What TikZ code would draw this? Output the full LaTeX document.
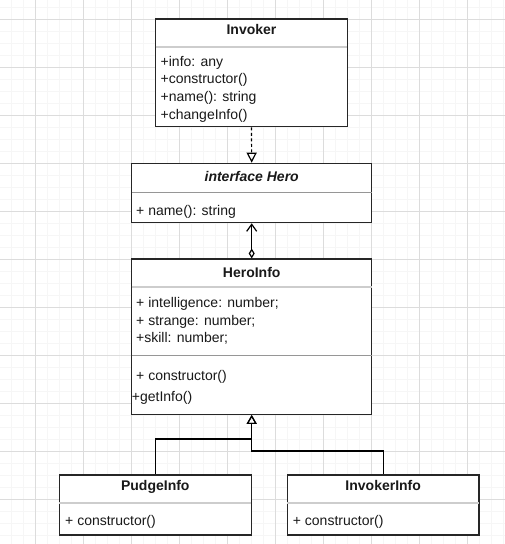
\documentclass[tikz,border=0pt]{standalone}
\usepackage{fontspec}
\setmainfont{Liberation Sans}
\usetikzlibrary{arrows.meta}

\definecolor{gridminor}{RGB}{246,246,246}
\definecolor{gridmajor}{RGB}{220,220,220}
\definecolor{boxline}{RGB}{38,38,38}
\definecolor{headrule}{RGB}{205,205,205}
\definecolor{bodyrule}{RGB}{150,150,150}
\definecolor{umltext}{RGB}{25,25,25}

\tikzset{
  classbox/.style={draw=boxline, line width=1.2pt, fill=white, inner sep=0pt},
  classname/.style={font=\fontsize{14}{17}\selectfont\bfseries, text=umltext,
    inner sep=0pt, text height=10pt, text depth=3pt},
  members/.style={font=\fontsize{14}{17.6}\selectfont, text=umltext,
    align=left, anchor=west, inner sep=0pt},
  titlerule/.style={draw=headrule, line width=2pt, shorten <=0.6pt, shorten >=0.6pt},
  memberrule/.style={draw=bodyrule, line width=0.8pt, shorten <=0.6pt, shorten >=0.6pt},
  realize/.style={draw=black, line width=1.2pt, dash pattern=on 3pt off 2.5pt,
    -{Triangle[open,length=10pt,width=10pt]}},
  aggregate/.style={draw=black, line width=1.2pt,
    {Diamond[open,length=10pt,width=6pt]}-{Straight Barb[length=7pt,width=10pt]}},
  generalize/.style={draw=black, line width=1.2pt,
    -{Triangle[open,length=9pt,width=10pt]}}
}

\begin{document}
\begin{tikzpicture}[x=1pt,y=-1pt]
  \useasboundingbox (0,0) rectangle (505,544);
  % background grid
  \foreach \i in {0,...,41}
    \draw[gridminor, line width=0.6pt] ({11.5+12*\i},0) -- ({11.5+12*\i},544);
  \foreach \i in {0,...,44}
    \draw[gridminor, line width=0.6pt] (0,{7.3+12*\i}) -- (505,{7.3+12*\i});
  \foreach \i in {0,...,9}
    \draw[gridmajor, line width=0.7pt] ({35.5+48*\i},0) -- ({35.5+48*\i},544);
  \foreach \i in {0,...,10}
    \draw[gridmajor, line width=0.7pt] (0,{19.3+48*\i}) -- (505,{19.3+48*\i});

  % Invoker
  \node[classbox, minimum width=191.6pt, minimum height=107.7pt] (invoker) at (251.5,72.85) {};
  \node[classname] (invokername) at (251.5,30.5) {Invoker};
  \draw[titlerule] ([yshift=-28.7pt]invoker.north west) -- ([yshift=-28.7pt]invoker.north east);
  \node[members] (invokerattrs) at (160.5,89) {+info: any\\+constructor()\\+name(): string\\+changeInfo()};

  % interface Hero
  \node[classbox, minimum width=240pt, minimum height=59.4pt] (hero) at (251.7,193) {};
  \node[classname, font=\fontsize{14}{17}\selectfont\bfseries\itshape] (heroname) at (251.7,178) {interface Hero};
  \draw[memberrule] ([yshift=-30pt]hero.north west) -- ([yshift=-30pt]hero.north east);
  \node[members] (heromethods) at (136,212) {+ name(): string};

  % HeroInfo
  \node[classbox, minimum width=240pt, minimum height=155.3pt] (heroinfo) at (251.7,336.7) {};
  \node[classname] (heroinfoname) at (251.7,273.8) {HeroInfo};
  \draw[titlerule] ([yshift=-28.7pt]heroinfo.north west) -- ([yshift=-28.7pt]heroinfo.north east);
  \node[members] (heroinfoattrs) at (136,321) {+ intelligence: number;\\+ strange: number;\\+skill: number;};
  \draw[memberrule] ([yshift=-97pt]heroinfo.north west) -- ([yshift=-97pt]heroinfo.north east);
  \node[members] (heroinfomethods) at (131.7,387.5) {\hspace*{4.3pt}+ constructor()\\[3pt]+getInfo()};

  % PudgeInfo
  \node[classbox, minimum width=192pt, minimum height=60pt] (pudge) at (155.3,505) {};
  \node[classname] (pudgename) at (155.3,487.2) {PudgeInfo};
  \draw[titlerule] ([yshift=-29pt]pudge.north west) -- ([yshift=-29pt]pudge.north east);
  \node[members] (pudgemethods) at (65,521.5) {+ constructor()};

  % InvokerInfo
  \node[classbox, minimum width=191.7pt, minimum height=60pt] (invokerinfo) at (383.2,505) {};
  \node[classname] (invokerinfoname) at (383.2,487.2) {InvokerInfo};
  \draw[titlerule] ([yshift=-29pt]invokerinfo.north west) -- ([yshift=-29pt]invokerinfo.north east);
  \node[members] (invokerinfomethods) at (292.7,521.5) {+ constructor()};

  % relations
  \coordinate (splitpudge) at (251.7,439);
  \coordinate (splitinvoker) at (251.7,451);
  \draw[realize] (invoker.south) -- (hero.north);
  \draw[aggregate] (heroinfo.north) -- (hero.south);
  \draw[generalize] (pudge.north) |- (splitpudge) -- (heroinfo.south);
  \draw[generalize] (invokerinfo.north) |- (splitinvoker) -- (heroinfo.south);
\end{tikzpicture}
\end{document}
